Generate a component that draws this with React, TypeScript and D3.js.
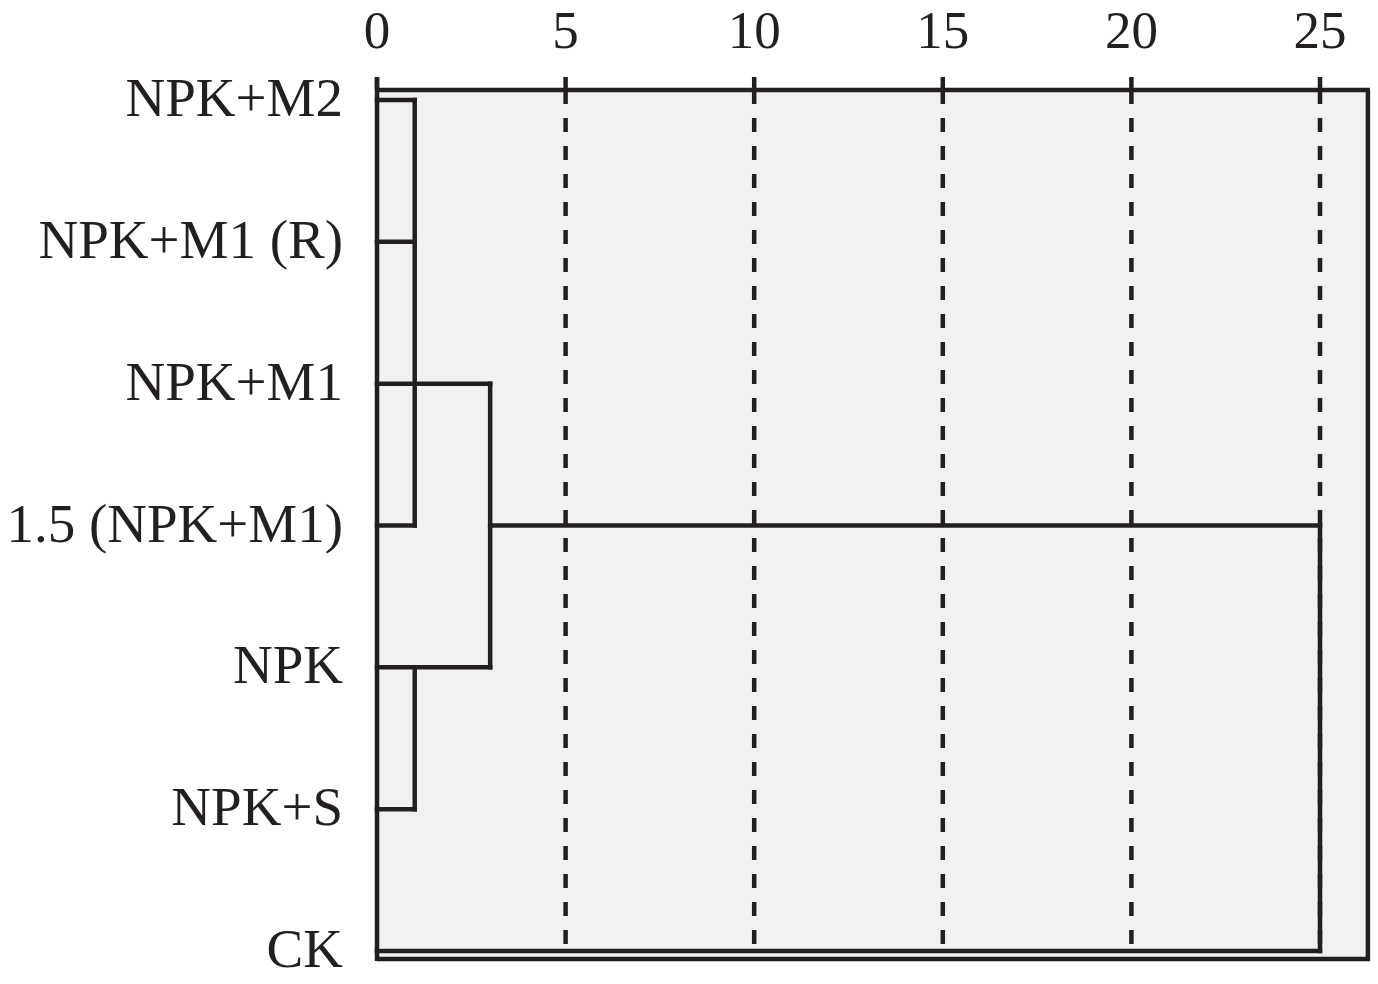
import React from "react";
import * as d3 from "d3";

// Leaf labels (top to bottom)
const leafLabels = ["NPK+M2", "NPK+M1 (R)", "NPK+M1", "1.5 (NPK+M1)", "NPK", "NPK+S", "CK"];
// Axis ticks (rescaled distance)
const tickValues = [0, 5, 10, 15, 20, 25];
const axisMax = 26.27;
// Horizontal dendrogram segments: [leaf row, from distance, to distance]
const horizontalLinks: [number, number, number][] = [
  [0, 0, 1],
  [1, 0, 1],
  [2, 0, 3],
  [3, 0, 1],
  [3, 3, 25],
  [4, 0, 3],
  [5, 0, 1],
  [6, 0, 25],
];
// Vertical dendrogram segments: [distance, from leaf row, to leaf row]
const verticalLinks: [number, number, number][] = [
  [1, 0, 3],
  [1, 4, 5],
  [3, 2, 4],
  [25, 3, 6],
];

const W = 1378;
const H = 984;
const INK = "#231f20";
const FONT = "'Liberation Serif', 'Times New Roman', serif";

export default function App() {
  const x = d3.scaleLinear().domain([0, 25]).range([377, 1320]);
  const y = d3
    .scaleLinear()
    .domain([0, leafLabels.length - 1])
    .range([100, 951]);
  const top = 90;
  const bottom = 959;
  const left = x(0);
  const right = x(axisMax);

  return (
    <svg
      width={W}
      height={H}
      style={{ position: "absolute", left: 0, top: 0, background: "#fff" }}
    >
      <rect x={left} y={top} width={right - left} height={bottom - top} fill="#f1f1f1" />
      {/* dashed grid lines */}
      {tickValues
        .filter((t) => t > 0)
        .map((t) => (
          <line
            key={"g" + t}
            x1={x(t)}
            x2={x(t)}
            y1={top}
            y2={bottom}
            stroke={INK}
            strokeWidth={4.5}
            strokeDasharray="14 14"
          />
        ))}
      {/* frame */}
      <line x1={left} x2={left} y1={top - 13} y2={bottom + 2} stroke={INK} strokeWidth={4.5} />
      <line x1={right} x2={right} y1={top} y2={bottom + 2} stroke={INK} strokeWidth={4.5} />
      <line x1={left} x2={right + 2} y1={bottom} y2={bottom} stroke={INK} strokeWidth={4.5} />
      <line x1={left - 2} x2={right + 2} y1={top} y2={top} stroke={INK} strokeWidth={4.5} />
      {/* ticks */}
      {tickValues.map((t) => (
        <g key={"t" + t}>
          <line x1={x(t)} x2={x(t)} y1={top - 13} y2={top} stroke={INK} strokeWidth={4.5} />
          <text
            x={x(t)}
            y={48}
            textAnchor="middle"
            fontFamily={FONT}
            fontSize={53}
            fill={INK}
          >
            {t}
          </text>
        </g>
      ))}
      {/* dendrogram */}
      {horizontalLinks.map(([r, a, b], i) => (
        <line
          key={"h" + i}
          x1={x(a)}
          x2={x(b)}
          y1={y(r)}
          y2={y(r)}
          stroke={INK}
          strokeWidth={4.5}
          strokeLinecap="square"
        />
      ))}
      {verticalLinks.map(([d, r0, r1], i) => (
        <line
          key={"v" + i}
          x1={x(d)}
          x2={x(d)}
          y1={y(r0)}
          y2={y(r1)}
          stroke={INK}
          strokeWidth={4.5}
          strokeLinecap="square"
        />
      ))}
      {/* leaf labels */}
      {leafLabels.map((l, i) => (
        <text
          key={l}
          x={343}
          y={y(i) + 16}
          textAnchor="end"
          fontFamily={FONT}
          fontSize={55}
          fill={INK}
        >
          {l}
        </text>
      ))}
    </svg>
  );
}
